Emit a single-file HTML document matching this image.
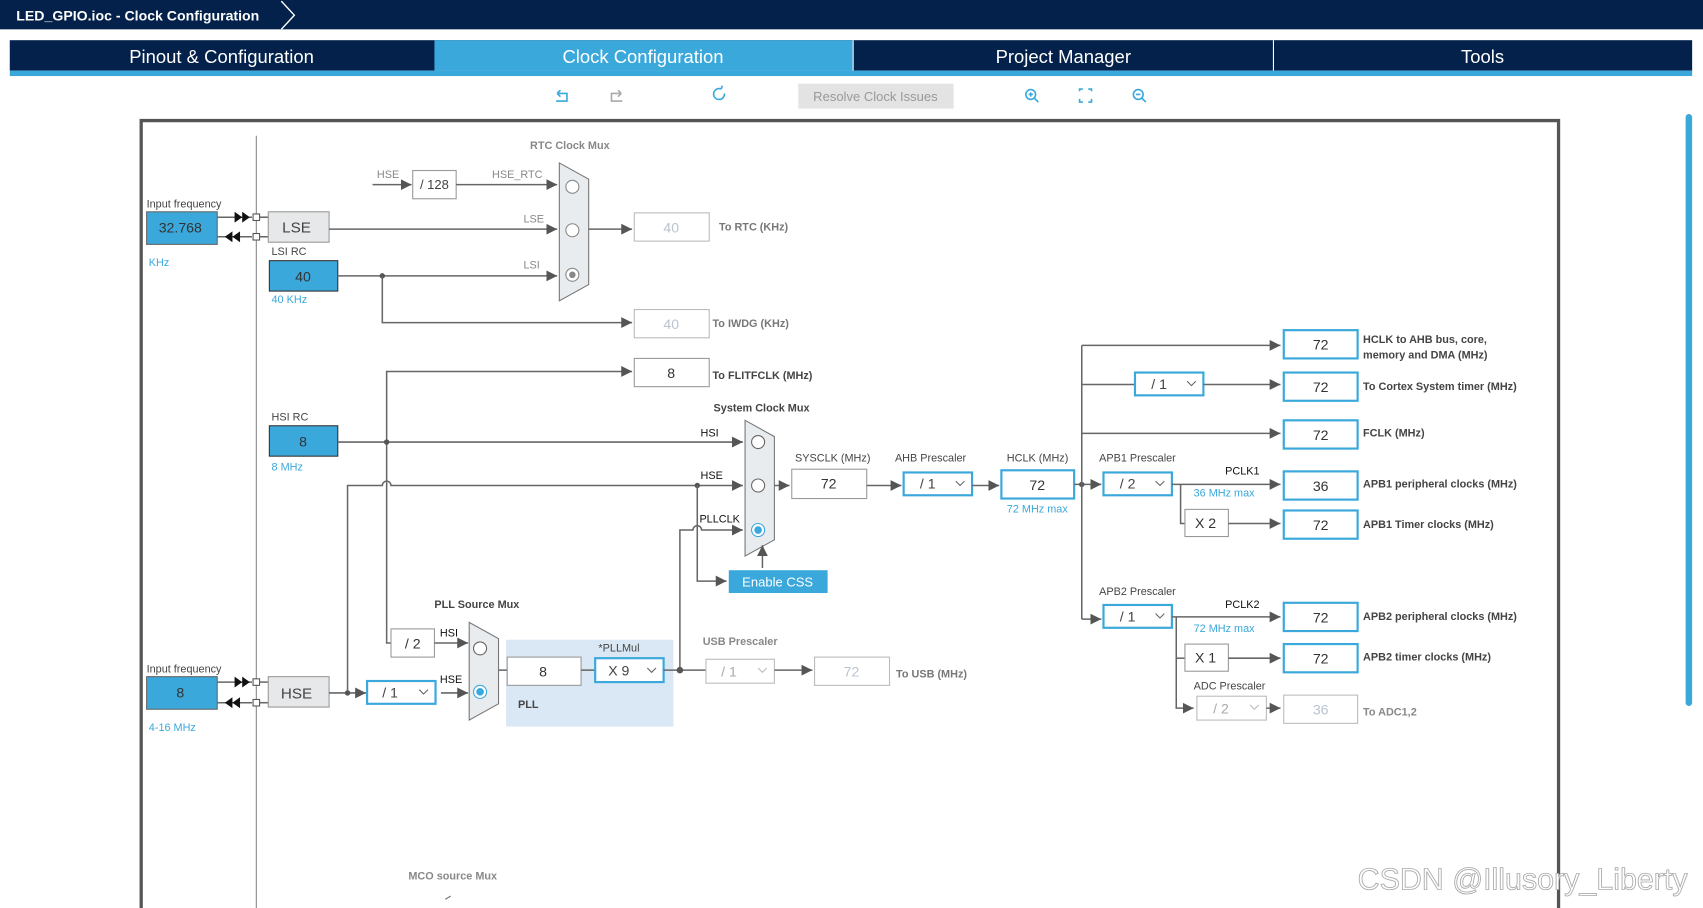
<!DOCTYPE html>
<html><head><meta charset="utf-8"><style>
html,body{margin:0;padding:0;background:#fff;}
svg{display:block;}
text{font-family:"Liberation Sans",sans-serif;}
.s{font-size:10px;fill:#444;}
.g{font-size:10px;fill:#888;}
.b{font-size:10px;fill:#444;font-weight:bold;}
.bl{font-size:10px;fill:#3aa8db;}
.v{font-size:13px;fill:#333;text-anchor:middle;}
.vl{font-size:13px;fill:#b8c4d0;text-anchor:middle;}
.d{font-size:13px;fill:#444;}
.ln{stroke:#666;stroke-width:1.4;fill:none;}
.bx{fill:#fff;stroke:#999;stroke-width:1;}
.bb{fill:#fff;stroke:#3aa8db;stroke-width:2;}
.lb{fill:#fff;stroke:#bbb;stroke-width:1;}
</style></head><body>
<svg width="1703" height="908" viewBox="0 0 1568 836" preserveAspectRatio="none" xmlns="http://www.w3.org/2000/svg">
<defs>
<marker id="a" viewBox="0 0 10 10" refX="10" refY="5" markerWidth="10" markerHeight="10" markerUnits="userSpaceOnUse" orient="auto"><path d="M0,0 L10,5 L0,10 z" fill="#555"/></marker>
</defs>
<!-- header -->
<rect x="0" y="0" width="1568" height="27" fill="#03214a"/>
<text x="15" y="19" font-size="13" font-weight="bold" fill="#fff">LED_GPIO.ioc - Clock Configuration</text>
<path d="M259,1 L271,14 L259,27" stroke="#fff" stroke-width="1.3" fill="none"/>
<rect x="9" y="37" width="1549" height="28" fill="#03214a"/>
<rect x="400" y="37" width="385" height="28" fill="#3aa8db"/>
<rect x="9" y="65" width="1549" height="5" fill="#3aa8db"/>
<rect x="785" y="37" width="1" height="28" fill="#fff"/>
<rect x="1172" y="37" width="1" height="28" fill="#fff"/>
<g font-size="17" fill="#fff" text-anchor="middle">
<text x="204" y="58">Pinout &amp; Configuration</text>
<text x="592" y="58">Clock Configuration</text>
<text x="979" y="58">Project Manager</text>
<text x="1365" y="58">Tools</text>
</g>
<!-- toolbar -->
<g stroke="#3aa8db" stroke-width="1.5" fill="none">
<path d="M513,86 h9 v7 h-10 M513,86 l3,-3 M513,86 l3,3"/>
<path d="M572,86 h-9 v7 h10 M572,86 l-3,-3 M572,86 l-3,3" stroke="#aaa"/>
<path d="M667,86 a5,5 0 1 1 -3,-4 M664,82 l1,-3"/>
<circle cx="949" cy="87" r="4.5"/><path d="M952,90 l4,4 M947,87 h4 M949,85 v4"/>
<path d="M994,84 v-2 h3 M1002,82 h3 v2 M1005,91 v3 h-3 M997,94 h-3 v-3"/>
<circle cx="1048" cy="87" r="4.5"/><path d="M1051,90 l4,4 M1046,87 h4"/>
</g>
<rect x="735" y="77" width="143" height="23" fill="#e3e3e3"/>
<text x="806" y="93" font-size="12" fill="#999" text-anchor="middle">Resolve Clock Issues</text>
<rect x="1552" y="105" width="6" height="545" rx="3" fill="#3aa8db"/>
<!-- frame -->
<path d="M130,840 V111 H1435 V840" stroke="#555" stroke-width="3" fill="none"/>
<line x1="236" y1="125" x2="236" y2="836" stroke="#888" stroke-width="1"/>

<!-- LSE -->
<text class="s" x="135" y="191">Input frequency</text>
<rect x="135" y="195" width="65" height="30" fill="#3aa8db" stroke="#666"/>
<text class="v" x="166" y="214">32.768</text>
<text class="bl" x="137" y="245">KHz</text>
<line class="ln" x1="200" y1="200" x2="232" y2="200" stroke="#222"/>
<path d="M216,195 l7,5 l-7,5z M223,195 l7,5 l-7,5z" fill="#111"/>
<line class="ln" x1="200" y1="218" x2="232" y2="218" stroke="#222"/>
<path d="M214,213 l-7,5 l7,5z M221,213 l-7,5 l7,5z" fill="#111"/>
<rect x="233" y="197" width="6" height="6" fill="#fff" stroke="#555"/>
<rect x="233" y="215" width="6" height="6" fill="#fff" stroke="#555"/>
<line class="ln" x1="239" y1="200" x2="247" y2="200"/><line class="ln" x1="239" y1="218" x2="247" y2="218"/>
<rect x="247" y="195" width="56" height="28" fill="#e6e8ea" stroke="#999"/>
<text x="273" y="214" font-size="14" fill="#444" text-anchor="middle">LSE</text>
<text class="s" x="250" y="235">LSI RC</text>
<rect x="248" y="240" width="63" height="28" fill="#3aa8db" stroke="#333"/>
<text class="v" x="279" y="259">40</text>
<text class="bl" x="250" y="279">40 KHz</text>

<line class="ln" x1="303" y1="211" x2="513" y2="211" marker-end="url(#a)"/>
<text class="g" x="482" y="205">LSE</text>
<line class="ln" x1="311" y1="254" x2="513" y2="254" marker-end="url(#a)"/>
<circle cx="352" cy="254" r="2.5" fill="#555"/>
<text class="g" x="482" y="247">LSI</text>
<path class="ln" d="M352,254 V297 H582" marker-end="url(#a)"/>
<line class="ln" x1="343" y1="170" x2="379" y2="170" marker-end="url(#a)"/>
<text class="g" x="347" y="164">HSE</text>
<rect class="bx" x="380" y="157" width="40" height="26"/>
<text class="d" x="400" y="174" style="font-size:12px" text-anchor="middle">/ 128</text>
<line class="ln" x1="420" y1="170" x2="513" y2="170" marker-end="url(#a)"/>
<text class="g" x="453" y="164">HSE_RTC</text>
<polygon points="515,150 542,165 542,262 515,277" fill="#e9ecef" stroke="#777"/>
<circle cx="527" cy="172" r="6" fill="#fff" stroke="#888"/>
<circle cx="527" cy="212" r="6" fill="#fff" stroke="#888"/>
<circle cx="527" cy="253" r="6" fill="#fff" stroke="#888"/><circle cx="527" cy="253" r="3" fill="#888"/>
<text class="g" x="488" y="137" font-weight="bold">RTC Clock Mux</text>
<line class="ln" x1="542" y1="211" x2="582" y2="211" marker-end="url(#a)"/>
<rect class="lb" x="584" y="196" width="69" height="26"/>
<text class="vl" x="618" y="214">40</text>
<text class="b" x="662" y="212" style="fill:#777">To RTC (KHz)</text>
<rect class="lb" x="584" y="285" width="69" height="26"/>
<text class="vl" x="618" y="303">40</text>
<text class="b" x="656" y="301" style="fill:#777">To IWDG (KHz)</text>

<!-- FLIT / HSI -->
<path class="ln" d="M356,590 V342 H582" marker-end="url(#a)"/>
<rect class="bx" x="584" y="330" width="69" height="26"/>
<text class="v" x="618" y="348">8</text>
<text class="b" x="656" y="349">To FLITFCLK (MHz)</text>
<text class="s" x="250" y="387">HSI RC</text>
<rect x="248" y="392" width="63" height="28" fill="#3aa8db" stroke="#333"/>
<text class="v" x="279" y="411">8</text>
<text class="bl" x="250" y="433">8 MHz</text>
<line class="ln" x1="311" y1="407" x2="684" y2="407" marker-end="url(#a)"/>
<circle cx="356" cy="407" r="2.5" fill="#555"/>
<text class="s" x="645" y="402" style="fill:#111">HSI</text>
<path class="ln" d="M320,638 V447 H352 a4,4 0 0 1 8,0 H684" marker-end="url(#a)"/>
<circle cx="642" cy="447" r="2.5" fill="#555"/>
<text class="s" x="645" y="441" style="fill:#111">HSE</text>
<path class="ln" d="M642,447 V535 H669" marker-end="url(#a)"/>
<path class="ln" d="M626,617 V488 H638 a4,4 0 0 1 8,0 H684" marker-end="url(#a)"/>
<text class="s" x="644" y="481" style="fill:#111">PLLCLK</text>
<polygon points="686,387 713,402 713,497 686,512" fill="#e9ecef" stroke="#777"/>
<circle cx="698" cy="407" r="6" fill="#fff" stroke="#666"/>
<circle cx="698" cy="447" r="6" fill="#fff" stroke="#666"/>
<circle cx="698" cy="488" r="6" fill="#fff" stroke="#3aa8db"/><circle cx="698" cy="488" r="3.5" fill="#3aa8db"/>
<text class="b" x="657" y="379">System Clock Mux</text>
<line class="ln" x1="702" y1="523" x2="702" y2="502" marker-end="url(#a)"/>
<rect x="671" y="525" width="91" height="21" fill="#3aa8db"/>
<text x="716" y="540" font-size="12" fill="#fff" text-anchor="middle">Enable CSS</text>

<line class="ln" x1="713" y1="447" x2="727" y2="447" marker-end="url(#a)"/>
<rect class="bx" x="729" y="432" width="69" height="27"/>
<text class="v" x="763" y="450">72</text>
<text class="s" x="732" y="425">SYSCLK (MHz)</text>
<line class="ln" x1="798" y1="447" x2="830" y2="447" marker-end="url(#a)"/>
<rect class="bb" x="832" y="435" width="63" height="21"/>
<text class="d" x="847" y="450">/ 1</text><path d="M880,443 l4,4 l4,-4" stroke="#666" fill="none"/>
<text class="s" x="824" y="425">AHB Prescaler</text>
<line class="ln" x1="895" y1="447" x2="920" y2="447" marker-end="url(#a)"/>
<rect class="bb" x="922" y="433" width="67" height="26"/>
<text class="v" x="955" y="451">72</text>
<text class="s" x="927" y="425">HCLK (MHz)</text>
<text class="bl" x="927" y="472">72 MHz max</text>
<line class="ln" x1="989" y1="446" x2="1014" y2="446" marker-end="url(#a)"/>
<circle cx="996" cy="446" r="2.5" fill="#555"/>
<path d="M996,570 V318" class="ln"/>
<text class="s" x="1012" y="425">APB1 Prescaler</text>
<rect class="bb" x="1016" y="435" width="63" height="21"/>
<text class="d" x="1031" y="450">/ 2</text><path d="M1064,443 l4,4 l4,-4" stroke="#666" fill="none"/>

<line class="ln" x1="996" y1="318" x2="1179" y2="318" marker-end="url(#a)"/>
<line class="ln" x1="996" y1="354" x2="1045" y2="354"/>
<rect class="bb" x="1045" y="343" width="63" height="21"/>
<text class="d" x="1060" y="358">/ 1</text><path d="M1093,351 l4,4 l4,-4" stroke="#666" fill="none"/>
<line class="ln" x1="1108" y1="354" x2="1179" y2="354" marker-end="url(#a)"/>
<line class="ln" x1="996" y1="399" x2="1179" y2="399" marker-end="url(#a)"/>
<line class="ln" x1="1079" y1="446" x2="1179" y2="446" marker-end="url(#a)"/>
<text class="s" x="1128" y="437" style="fill:#111">PCLK1</text>
<text class="bl" x="1099" y="457">36 MHz max</text>
<path class="ln" d="M1087,446 V482 H1091"/>
<rect class="bx" x="1091" y="469" width="40" height="25"/>
<text class="v" x="1110" y="486">X 2</text>
<line class="ln" x1="1131" y1="482" x2="1179" y2="482" marker-end="url(#a)"/>

<line class="ln" x1="996" y1="570" x2="1014" y2="570" marker-end="url(#a)"/>
<text class="s" x="1012" y="548">APB2 Prescaler</text>
<rect class="bb" x="1016" y="557" width="63" height="21"/>
<text class="d" x="1031" y="572">/ 1</text><path d="M1064,565 l4,4 l4,-4" stroke="#666" fill="none"/>
<line class="ln" x1="1079" y1="568" x2="1179" y2="568" marker-end="url(#a)"/>
<text class="s" x="1128" y="560" style="fill:#111">PCLK2</text>
<text class="bl" x="1099" y="582">72 MHz max</text>
<path class="ln" d="M1083,568 V652 H1099" marker-end="url(#a)"/>
<line class="ln" x1="1083" y1="606" x2="1091" y2="606"/>
<rect class="bx" x="1091" y="593" width="40" height="25"/>
<text class="v" x="1110" y="610">X 1</text>
<line class="ln" x1="1131" y1="606" x2="1179" y2="606" marker-end="url(#a)"/>
<text class="s" x="1099" y="635">ADC Prescaler</text>
<rect class="lb" x="1102" y="641" width="64" height="22"/>
<text x="1117" y="657" font-size="13" fill="#aaa">/ 2</text><path d="M1151,649 l4,4 l4,-4" stroke="#bbb" fill="none"/>
<line class="ln" x1="1166" y1="652" x2="1179" y2="652" marker-end="url(#a)"/>

<g>
<rect class="bb" x="1182" y="304" width="68" height="26"/><text class="v" x="1216" y="322">72</text>
<rect class="bb" x="1182" y="343" width="68" height="26"/><text class="v" x="1216" y="361">72</text>
<rect class="bb" x="1182" y="387" width="68" height="26"/><text class="v" x="1216" y="405">72</text>
<rect class="bb" x="1182" y="434" width="68" height="26"/><text class="v" x="1216" y="452">36</text>
<rect class="bb" x="1182" y="470" width="68" height="26"/><text class="v" x="1216" y="488">72</text>
<rect class="bb" x="1182" y="555" width="68" height="26"/><text class="v" x="1216" y="573">72</text>
<rect class="bb" x="1182" y="593" width="68" height="26"/><text class="v" x="1216" y="611">72</text>
<rect class="lb" x="1182" y="640" width="68" height="26"/><text class="vl" x="1216" y="658">36</text>
</g>
<text class="b" x="1255" y="316">HCLK to AHB bus, core,</text>
<text class="b" x="1255" y="330">memory and DMA (MHz)</text>
<text class="b" x="1255" y="359">To Cortex System timer (MHz)</text>
<text class="b" x="1255" y="402">FCLK (MHz)</text>
<text class="b" x="1255" y="449">APB1 peripheral clocks (MHz)</text>
<text class="b" x="1255" y="486">APB1 Timer clocks (MHz)</text>
<text class="b" x="1255" y="571">APB2 peripheral clocks (MHz)</text>
<text class="b" x="1255" y="608">APB2 timer clocks (MHz)</text>
<text class="b" x="1255" y="659" style="fill:#888">To ADC1,2</text>

<!-- HSE bottom -->
<text class="s" x="135" y="619">Input frequency</text>
<rect x="135" y="623" width="65" height="30" fill="#3aa8db" stroke="#666"/>
<text class="v" x="166" y="642">8</text>
<text class="bl" x="137" y="673">4-16 MHz</text>
<line class="ln" x1="200" y1="628" x2="232" y2="628" stroke="#222"/>
<path d="M216,623 l7,5 l-7,5z M223,623 l7,5 l-7,5z" fill="#111"/>
<line class="ln" x1="200" y1="647" x2="232" y2="647" stroke="#222"/>
<path d="M214,642 l-7,5 l7,5z M221,642 l-7,5 l7,5z" fill="#111"/>
<rect x="233" y="625" width="6" height="6" fill="#fff" stroke="#555"/>
<rect x="233" y="644" width="6" height="6" fill="#fff" stroke="#555"/>
<line class="ln" x1="239" y1="628" x2="247" y2="628"/><line class="ln" x1="239" y1="647" x2="247" y2="647"/>
<rect x="247" y="623" width="56" height="28" fill="#e6e8ea" stroke="#999"/>
<text x="273" y="643" font-size="14" fill="#444" text-anchor="middle">HSE</text>
<line class="ln" x1="303" y1="638" x2="337" y2="638" marker-end="url(#a)"/>
<circle cx="320" cy="638" r="2.5" fill="#555"/>
<rect class="bb" x="338" y="627" width="63" height="21"/>
<text class="d" x="352" y="642">/ 1</text><path d="M386,635 l4,4 l4,-4" stroke="#666" fill="none"/>
<line class="ln" x1="406" y1="638" x2="431" y2="638" marker-end="url(#a)"/>
<text class="s" x="405" y="629" style="fill:#111">HSE</text>
<path class="ln" d="M356,590 V592 H360"/>
<rect class="bx" x="360" y="579" width="40" height="26"/>
<text class="v" x="380" y="597">/ 2</text>
<line class="ln" x1="400" y1="592" x2="431" y2="592" marker-end="url(#a)"/>
<text class="s" x="405" y="586" style="fill:#111">HSI</text>
<polygon points="432,573 459,588 459,648 432,663" fill="#e9ecef" stroke="#777"/>
<circle cx="442" cy="597" r="6" fill="#fff" stroke="#666"/>
<circle cx="442" cy="637" r="6" fill="#fff" stroke="#3aa8db"/><circle cx="442" cy="637" r="3.5" fill="#3aa8db"/>
<text class="b" x="400" y="560">PLL Source Mux</text>
<rect x="466" y="589" width="154" height="80" fill="#dae8f5"/>
<line class="ln" x1="459" y1="617" x2="467" y2="617"/>
<rect class="bx" x="467" y="605" width="68" height="26"/>
<text class="v" x="500" y="623">8</text>
<line class="ln" x1="535" y1="617" x2="548" y2="617"/>
<rect class="bb" x="548" y="606" width="63" height="22"/>
<text class="d" x="560" y="622">X 9</text><path d="M596,615 l4,4 l4,-4" stroke="#666" fill="none"/>
<text class="s" x="551" y="600">*PLLMul</text>
<text class="b" x="477" y="652">PLL</text>
<line class="ln" x1="611" y1="617" x2="650" y2="617"/>
<circle cx="626" cy="617" r="3" fill="#555"/>
<rect class="lb" x="650" y="607" width="63" height="22"/>
<text x="664" y="623" font-size="13" fill="#aaa">/ 1</text><path d="M698,615 l4,4 l4,-4" stroke="#bbb" fill="none"/>
<text class="g" x="647" y="594" font-weight="bold">USB Prescaler</text>
<line class="ln" x1="713" y1="617" x2="748" y2="617" marker-end="url(#a)"/>
<rect class="lb" x="750" y="605" width="69" height="26"/>
<text class="vl" x="784" y="623">72</text>
<text class="b" x="825" y="624" style="fill:#777">To USB (MHz)</text>
<text class="g" x="376" y="810" font-weight="bold">MCO source Mux</text>
<path d="M410,828 l5,-3" stroke="#666"/>
<text x="1250" y="819" font-size="28" fill="#fff" stroke="#aaa" stroke-width="0.8">CSDN @Illusory_Liberty</text>
</svg>
</body></html>
